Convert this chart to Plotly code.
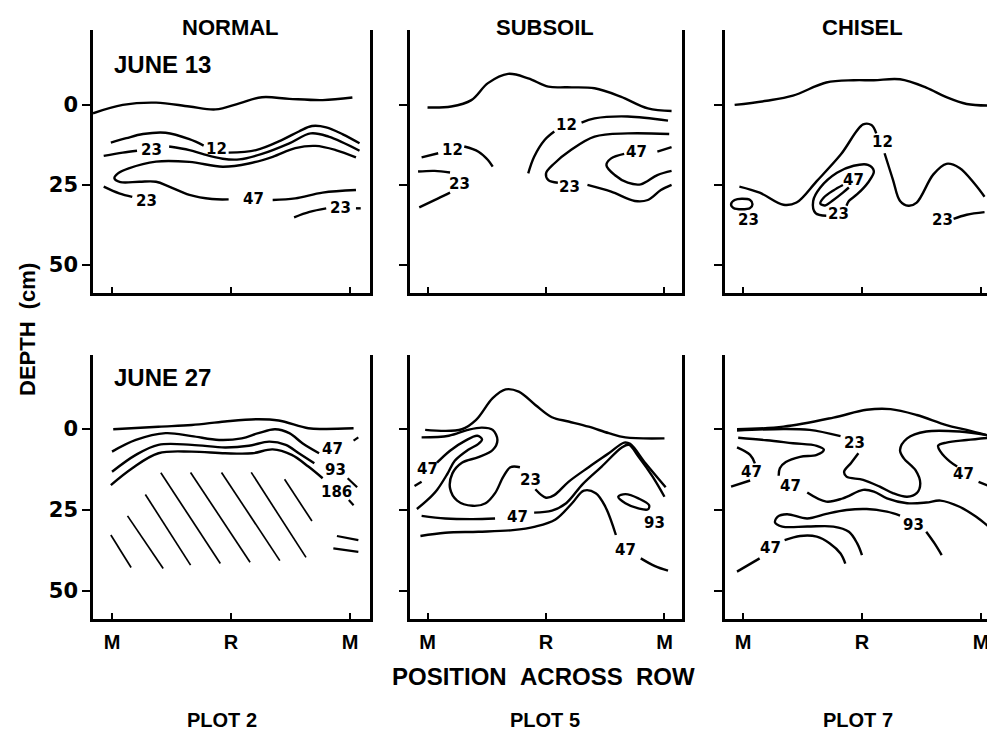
import plotly.graph_objects as go

# ---------------- data (x: position across row, M=0, R=1, M=2 ; d: depth in cm) -------------
# Panel 1: NORMAL, June 13
p1_surf_x = [-0.16, 0.09, 0.37, 0.65, 0.87, 1.07, 1.26, 1.49, 1.77, 2.02]
p1_surf_d = [2.6, 0.0, -0.7, 0.5, 1.4, -0.5, -2.4, -1.9, -1.5, -2.3]
p1_12a_x = [-0.01, 0.12, 0.26, 0.45, 0.65, 0.77]
p1_12a_d = [11.8, 10.4, 9.1, 8.7, 10.7, 12.7]
p1_12b_x = [0.98, 1.21, 1.43, 1.57, 1.68, 1.80, 1.94, 2.08]
p1_12b_d = [14.9, 14.1, 10.9, 8.3, 6.6, 7.0, 9.2, 12.0]
p1_23a_x = [-0.07, 0.09, 0.21]
p1_23a_d = [15.9, 14.9, 14.3]
p1_23b_x = [0.48, 0.65, 0.76, 0.93, 1.07, 1.26, 1.49, 1.67, 1.82, 2.08]
p1_23b_d = [13.0, 14.1, 15.3, 16.8, 17.0, 15.3, 12.0, 8.9, 9.9, 14.3]
p1_47a_x = [2.05, 1.88, 1.71, 1.54, 1.35, 1.15, 0.93, 0.65, 0.37, 0.14, 0.05, 0.02, 0.07, 0.23, 0.37, 0.48, 0.65, 0.84, 0.98]
p1_47a_d = [16.4, 14.1, 12.8, 13.5, 16.2, 18.3, 19.3, 17.8, 17.7, 19.8, 21.4, 22.9, 24.1, 24.0, 24.0, 25.5, 28.1, 29.4, 29.5]
p1_47b_x = [1.35, 1.54, 1.77, 2.05]
p1_47b_d = [29.7, 29.2, 27.4, 26.6]
p1_23c_x = [-0.07, 0.06, 0.17]
p1_23c_d = [25.5, 27.6, 28.7]
p1_23d_x = [1.53, 1.66, 1.80]
p1_23d_d = [35.1, 33.4, 32.3]
p1_dash_x = [2.05, 2.09]
p1_dash_d = [32.3, 32.3]
p1_lab_t = ["12", "23", "47", "23", "23"]
p1_lab_x = [0.88, 0.33, 1.19, 0.29, 1.92]
p1_lab_d = [13.8, 14.1, 29.4, 29.9, 32.3]

# Panel 2: SUBSOIL, June 13
p2_surf_x = [0.00, 0.20, 0.37, 0.51, 0.68, 0.85, 1.02, 1.18, 1.41, 1.63, 1.86, 2.06]
p2_surf_d = [0.8, 0.5, -1.5, -6.8, -9.7, -8.3, -5.7, -5.5, -5.2, -2.6, 1.1, 1.9]
p2_12a_x = [-0.05, 0.09]
p2_12a_d = [16.4, 15.1]
p2_12b_x = [0.31, 0.43, 0.51, 0.55]
p2_12b_d = [13.0, 14.6, 17.2, 19.3]
p2_23a_x = [-0.08, 0.06, 0.19]
p2_23a_d = [20.8, 20.6, 21.1]
p2_23b_x = [0.19, 0.09, -0.07]
p2_23b_d = [27.4, 29.2, 32.0]
p2_12c_x = [0.85, 0.90, 0.99, 1.07]
p2_12c_d = [21.4, 16.2, 10.9, 8.3]
p2_12d_x = [1.30, 1.41, 1.69, 2.03]
p2_12d_d = [5.5, 4.2, 3.6, 4.9]
p2_23c_x = [2.04, 1.69, 1.41, 1.21, 1.07, 1.00, 1.02, 1.10]
p2_23c_d = [9.1, 8.9, 9.9, 14.1, 18.3, 21.4, 23.5, 24.3]
p2_23d_x = [1.35, 1.55, 1.75, 1.86, 1.97, 2.06]
p2_23d_d = [25.0, 27.1, 30.0, 29.7, 26.6, 25.0]
p2_47a_x = [1.66, 1.55, 1.51, 1.58, 1.69, 1.80, 1.94, 2.06]
p2_47a_d = [15.3, 16.7, 18.8, 21.9, 24.3, 24.8, 21.9, 20.6]
p2_47b_x = [1.94, 2.06]
p2_47b_d = [14.6, 13.2]
p2_lab_t = ["12", "23", "12", "23", "47"]
p2_lab_x = [0.21, 0.27, 1.17, 1.20, 1.76]
p2_lab_d = [14.1, 24.7, 6.3, 25.5, 14.6]

# Panel 3: CHISEL, June 13
p3_surf_x = [-0.07, 0.20, 0.42, 0.70, 0.93, 1.10, 1.32, 1.54, 1.71, 1.88, 2.08]
p3_surf_d = [0.0, -1.3, -2.9, -7.0, -7.7, -7.7, -8.0, -5.4, -2.4, -0.3, 0.2]
p3_12a_x = [-0.03, 0.14, 0.34, 0.45, 0.62, 0.82, 1.01, 1.08, 1.12]
p3_12a_d = [25.5, 27.4, 31.2, 30.5, 23.8, 15.6, 6.1, 6.3, 8.9]
p3_12b_x = [1.19, 1.26, 1.32, 1.39, 1.46, 1.60, 1.71, 1.82, 1.95, 2.03]
p3_12b_d = [15.1, 23.3, 30.0, 31.5, 30.5, 21.7, 18.4, 19.7, 24.8, 28.7]
p3_23a_x = [-0.10, -0.07, -0.01, 0.06, 0.08, 0.06, -0.01, -0.08, -0.10]
p3_23a_d = [31.0, 29.7, 29.3, 29.7, 31.0, 32.2, 32.6, 32.2, 31.0]
p3_23b_x = [0.70, 0.61, 0.59, 0.65, 0.79, 0.93, 1.05, 1.10, 1.05, 0.96, 0.89, 0.87]
p3_23b_d = [34.6, 33.8, 30.0, 25.8, 21.2, 19.0, 18.7, 20.7, 24.3, 27.9, 30.0, 31.5]
p3_47_x = [0.84, 0.76, 0.68, 0.65, 0.69, 0.76, 0.84, 0.89]
p3_47_d = [25.0, 26.7, 28.9, 30.8, 31.4, 29.7, 27.4, 25.8]
p3_23c_x = [1.77, 1.88, 2.03]
p3_23c_d = [35.6, 34.3, 33.5]
p3_lab_t = ["12", "23", "23", "47", "23"]
p3_lab_x = [1.17, 0.05, 0.80, 0.93, 1.68]
p3_lab_d = [11.7, 35.9, 34.0, 23.3, 35.9]

# Panel 4: NORMAL, June 27
p4_surf_x = [0.01, 0.39, 0.67, 0.95, 1.23, 1.40, 1.65, 1.79, 2.03]
p4_surf_d = [0.1, -0.7, -1.2, -2.3, -3.0, -2.6, -0.2, 0.0, -0.2]
p4_47_x = [0.00, 0.20, 0.45, 0.67, 0.90, 1.09, 1.23, 1.37, 1.49, 1.60, 1.74]
p4_47_d = [7.0, 3.4, 1.3, 2.2, 3.4, 2.9, 1.3, 0.1, 1.3, 4.4, 7.5]
p4_93_x = [0.00, 0.20, 0.39, 0.67, 0.95, 1.15, 1.32, 1.46, 1.57, 1.70]
p4_93_d = [13.2, 8.0, 4.9, 4.9, 5.7, 5.2, 3.9, 4.9, 7.5, 10.6]
p4_186_x = [-0.01, 0.17, 0.39, 0.67, 0.95, 1.18, 1.35, 1.51, 1.65, 1.77]
p4_186_d = [17.3, 12.1, 7.5, 7.0, 7.5, 7.5, 6.3, 8.0, 11.6, 15.2]
p4_dash_x0 = [2.03, 1.98, 1.99, 1.89, 1.86]
p4_dash_d0 = [3.6, 15.2, 21.9, 33.0, 36.8]
p4_dash_x1 = [2.07, 2.06, 2.03, 2.07, 2.07]
p4_dash_d1 = [2.6, 18.0, 23.5, 34.3, 37.9]
p4_hatch_x0 = [-0.01, 0.13, 0.28, 0.41, 0.66, 0.92, 1.17, 1.45]
p4_hatch_d0 = [32.7, 26.8, 20.2, 13.5, 13.4, 13.4, 13.4, 15.5]
p4_hatch_x1 = [0.16, 0.43, 0.66, 0.91, 1.16, 1.41, 1.63, 1.68]
p4_hatch_d1 = [42.7, 43.0, 42.0, 41.5, 41.1, 40.6, 39.6, 28.4]
p4_lab_t = ["47", "93", "186"]
p4_lab_x = [1.85, 1.88, 1.89]
p4_lab_d = [6.3, 12.6, 19.5]

# Panel 5: SUBSOIL, June 27
p5_surf_x = [-0.02, 0.29, 0.41, 0.55, 0.66, 0.77, 0.91, 1.05, 1.19, 1.36, 1.53, 1.67, 2.00]
p5_surf_d = [0.3, 0.1, -2.8, -9.5, -12.2, -11.5, -7.4, -3.6, -2.3, -0.7, 1.3, 2.6, 2.9]
p5_23a_x = [-0.05, 0.18, 0.34, 0.46, 0.55, 0.59, 0.55, 0.43, 0.29, 0.21, 0.19, 0.25, 0.38, 0.49, 0.57, 0.64, 0.70, 0.78]
p5_23a_d = [2.6, 2.1, 0.3, -0.4, 0.3, 3.4, 6.5, 8.7, 10.4, 13.7, 18.3, 22.1, 23.7, 22.9, 19.8, 14.7, 11.8, 11.8]
p5_23b_x = [0.91, 1.00, 1.07, 1.19, 1.36, 1.53, 1.66, 1.71, 1.84, 2.01]
p5_23b_d = [18.6, 21.2, 20.4, 16.3, 11.8, 7.5, 4.2, 4.6, 10.6, 18.0]
p5_47a_x = [-0.11, -0.05]
p5_47a_d = [17.6, 16.3]
p5_47b_x = [0.08, 0.19, 0.32, 0.42, 0.46, 0.43, 0.34, 0.23, 0.17, 0.08, 0.00, -0.09]
p5_47b_d = [10.4, 6.7, 3.6, 2.1, 3.2, 4.6, 6.5, 9.8, 13.7, 18.8, 21.9, 24.7]
p5_47c_x = [-0.05, 0.15, 0.38, 0.57]
p5_47c_d = [26.8, 27.6, 27.8, 27.6]
p5_47d_x = [0.90, 1.05, 1.17, 1.31, 1.47, 1.64, 1.70, 1.78, 1.90, 2.00]
p5_47d_d = [25.8, 25.2, 22.9, 17.0, 11.6, 5.7, 4.9, 8.5, 14.7, 20.9]
p5_47e_x = [-0.06, 0.15, 0.43, 0.72, 0.91, 1.08, 1.22, 1.32, 1.42, 1.50, 1.59]
p5_47e_d = [33.0, 32.0, 31.7, 31.2, 30.1, 27.9, 22.9, 19.0, 19.8, 23.9, 32.7]
p5_47f_x = [1.80, 1.92, 2.03]
p5_47f_d = [39.9, 42.3, 43.7]
p5_93_x = [1.61, 1.67, 1.78, 1.87, 1.86, 1.78, 1.67, 1.61]
p5_93_d = [20.9, 20.1, 21.4, 23.5, 24.8, 24.5, 22.9, 20.9]
p5_lab_t = ["47", "23", "47", "47", "93"]
p5_lab_x = [0.00, 0.87, 0.76, 1.67, 1.92]
p5_lab_d = [12.4, 15.7, 27.1, 37.3, 28.9]

# Panel 6: CHISEL, June 27
p6_surf_x = [-0.05, 0.34, 0.76, 1.04, 1.24, 1.46, 1.71, 1.88, 2.10]
p6_surf_d = [0.1, -0.7, -3.5, -5.9, -6.1, -4.3, -1.2, 0.3, 2.4]
p6_23a_x = [-0.05, 0.34, 0.56, 0.82]
p6_23a_d = [0.5, 0.0, 0.3, 2.2]
p6_23b_x = [0.97, 0.91, 0.85, 0.87, 1.01, 1.15, 1.26, 1.38, 1.46, 1.49, 1.45, 1.35, 1.32, 1.38, 1.54, 1.82, 2.10]
p6_23b_d = [7.5, 10.4, 13.2, 14.7, 15.7, 17.8, 19.8, 20.9, 19.8, 16.8, 12.7, 9.0, 6.5, 2.9, 0.8, 0.8, 2.2]
p6_47a_x = [-0.04, 0.20, 0.42, 0.62, 0.68, 0.62, 0.48, 0.36, 0.31, 0.30]
p6_47a_d = [2.7, 3.5, 4.4, 5.2, 6.4, 8.0, 8.6, 10.2, 12.1, 14.4]
p6_47b_x = [0.54, 0.70, 0.84, 1.01, 1.10, 1.21, 1.38, 1.54, 1.66, 1.82, 1.96, 2.10]
p6_47b_d = [19.6, 22.4, 21.4, 18.8, 19.3, 21.4, 22.9, 22.7, 22.1, 24.0, 27.1, 31.2]
p6_47c_x = [-0.05, 0.06, 0.10]
p6_47c_d = [5.7, 8.0, 10.6]
p6_47d_x = [0.06, -0.10]
p6_47d_d = [15.9, 17.8]
p6_47e_x = [2.10, 1.88, 1.71, 1.64, 1.66, 1.74, 1.80]
p6_47e_d = [2.6, 3.4, 4.2, 5.2, 7.0, 10.1, 11.6]
p6_47f_x = [1.98, 2.08]
p6_47f_d = [16.3, 17.8]
p6_93a_x = [1.00, 0.96, 0.89, 0.76, 0.54, 0.33, 0.27, 0.29, 0.37, 0.54, 0.70, 0.87, 1.04, 1.21, 1.32]
p6_93a_d = [38.9, 35.3, 31.7, 30.1, 30.1, 30.1, 28.9, 27.1, 26.3, 27.6, 26.2, 25.0, 24.7, 25.5, 26.7]
p6_93b_x = [1.54, 1.61, 1.67]
p6_93b_d = [31.7, 35.3, 38.9]
p6_47g_x = [-0.05, 0.14]
p6_47g_d = [44.0, 39.9]
p6_47h_x = [0.35, 0.48, 0.62, 0.73, 0.82, 0.86]
p6_47h_d = [34.3, 33.0, 33.2, 35.3, 38.4, 41.5]
p6_lab_t = ["23", "47", "47", "47", "93", "47"]
p6_lab_x = [0.94, 0.40, 0.07, 1.85, 1.43, 0.23]
p6_lab_d = [4.4, 17.6, 13.2, 13.9, 29.6, 36.8]

treatments = ["NORMAL", "SUBSOIL", "CHISEL"]
dates = ["JUNE 13", "JUNE 27"]
plots = ["PLOT 2", "PLOT 5", "PLOT 7"]
x_tick_vals = [0, 1, 2]
x_tick_text = ["M", "R", "M"]
depth_ticks = [0, 25, 50]

# ---------------- figure ----------------
WORD = "Liberation Sans"
NUM = "DejaVu Sans"
W, H, OFF = 987, 723, 8   # page body margin of 8 px is compensated


def px(x):
    return (x - OFF) / W


def py(y):
    return 1 - (y - OFF) / H


fig = go.Figure()

panels = {
    1: [(p1_surf_x, p1_surf_d), (p1_12a_x, p1_12a_d), (p1_12b_x, p1_12b_d), (p1_23a_x, p1_23a_d),
        (p1_23b_x, p1_23b_d), (p1_47a_x, p1_47a_d), (p1_47b_x, p1_47b_d), (p1_23c_x, p1_23c_d),
        (p1_23d_x, p1_23d_d), (p1_dash_x, p1_dash_d)],
    2: [(p2_surf_x, p2_surf_d), (p2_12a_x, p2_12a_d), (p2_12b_x, p2_12b_d), (p2_23a_x, p2_23a_d),
        (p2_23b_x, p2_23b_d), (p2_12c_x, p2_12c_d), (p2_12d_x, p2_12d_d), (p2_23c_x, p2_23c_d),
        (p2_23d_x, p2_23d_d), (p2_47a_x, p2_47a_d), (p2_47b_x, p2_47b_d)],
    3: [(p3_surf_x, p3_surf_d), (p3_12a_x, p3_12a_d), (p3_12b_x, p3_12b_d), (p3_23a_x, p3_23a_d),
        (p3_23b_x, p3_23b_d), (p3_47_x, p3_47_d), (p3_23c_x, p3_23c_d)],
    4: [(p4_surf_x, p4_surf_d), (p4_47_x, p4_47_d), (p4_93_x, p4_93_d), (p4_186_x, p4_186_d)],
    5: [(p5_surf_x, p5_surf_d), (p5_23a_x, p5_23a_d), (p5_23b_x, p5_23b_d), (p5_47a_x, p5_47a_d),
        (p5_47b_x, p5_47b_d), (p5_47c_x, p5_47c_d), (p5_47d_x, p5_47d_d), (p5_47e_x, p5_47e_d),
        (p5_47f_x, p5_47f_d), (p5_93_x, p5_93_d)],
    6: [(p6_surf_x, p6_surf_d), (p6_23a_x, p6_23a_d), (p6_23b_x, p6_23b_d), (p6_47a_x, p6_47a_d),
        (p6_47b_x, p6_47b_d), (p6_47c_x, p6_47c_d), (p6_47d_x, p6_47d_d), (p6_47e_x, p6_47e_d),
        (p6_47f_x, p6_47f_d), (p6_93a_x, p6_93a_d), (p6_93b_x, p6_93b_d), (p6_47g_x, p6_47g_d),
        (p6_47h_x, p6_47h_d)],
}
labels = {
    1: (p1_lab_t, p1_lab_x, p1_lab_d), 2: (p2_lab_t, p2_lab_x, p2_lab_d), 3: (p3_lab_t, p3_lab_x, p3_lab_d),
    4: (p4_lab_t, p4_lab_x, p4_lab_d), 5: (p5_lab_t, p5_lab_x, p5_lab_d), 6: (p6_lab_t, p6_lab_x, p6_lab_d),
}


def ax(i):
    return ("x" if i == 1 else f"x{i}"), ("y" if i == 1 else f"y{i}")


for i, curves in panels.items():
    xa, ya = ax(i)
    for cx, cd in curves:
        fig.add_trace(go.Scatter(x=cx, y=cd, mode="lines", xaxis=xa, yaxis=ya,
                                 line=dict(color="black", width=2.4, shape="spline", smoothing=1.0),
                                 hoverinfo="skip", showlegend=False))


def segs(x0, d0, x1, d1):
    xs, ds = [], []
    for a, b, c, e in zip(x0, d0, x1, d1):
        xs += [a, c, None]
        ds += [b, e, None]
    return xs, ds


for (x0, d0, x1, d1), w in [((p4_dash_x0, p4_dash_d0, p4_dash_x1, p4_dash_d1), 2.2),
                            ((p4_hatch_x0, p4_hatch_d0, p4_hatch_x1, p4_hatch_d1), 1.7)]:
    sx, sd = segs(x0, d0, x1, d1)
    fig.add_trace(go.Scatter(x=sx, y=sd, mode="lines", xaxis="x4", yaxis="y4",
                             line=dict(color="black", width=w), hoverinfo="skip", showlegend=False))

annotations = []
for i, (ts, xs, ds) in labels.items():
    xa, ya = ax(i)
    for t, lx, ld in zip(ts, xs, ds):
        annotations.append(dict(text=t, x=lx, y=ld, xref=xa, yref=ya, showarrow=False,
                                xanchor="center", yanchor="middle",
                                font=dict(family=NUM, size=15, color="black", weight="bold")))

# layout geometry (pixel edges of each panel in the 995x731 window)
x_dom = [[px(93), px(370)], [px(410), px(682)], [px(725), px(995)]]
x_rng = [[-0.160, 2.168], [-0.148, 2.148], [-0.151, 2.118]]
y_dom = [[py(293), py(30)], [py(619), py(355)]]
y_rng = [[58.75, -23.4], [58.6, -22.8]]

layout = dict(width=W, height=H, margin=dict(l=0, r=0, t=0, b=0),
              paper_bgcolor="white", plot_bgcolor="white", showlegend=False)
for i in range(1, 7):
    col, row = (i - 1) % 3, (i - 1) // 3
    xa, ya = ax(i)
    layout["xaxis" + ("" if i == 1 else str(i))] = dict(
        domain=x_dom[col], range=x_rng[col], anchor=ya, tickvals=x_tick_vals, ticktext=x_tick_text,
        showticklabels=(row == 1), ticks="inside", ticklen=6, tickwidth=2, tickcolor="black",
        showline=True, linecolor="black", linewidth=2.5, showgrid=False, zeroline=False,
        tickfont=dict(family=WORD, size=20, color="black", weight="bold"), ticklabelstandoff=3)
    layout["yaxis" + ("" if i == 1 else str(i))] = dict(
        domain=y_dom[row], range=y_rng[row], anchor=xa, tickvals=depth_ticks,
        showticklabels=(col == 0), ticks="outside", ticklen=8, tickwidth=2, tickcolor="black",
        showline=True, mirror=(col < 2), linecolor="black", linewidth=2.5, showgrid=False, zeroline=False,
        tickfont=dict(family=NUM, size=21, color="black", weight="bold"))


def note(text, x, y, size, xanchor="center", angle=0, family=WORD):
    annotations.append(dict(text=text, x=px(x), y=py(y), xref="paper", yref="paper", showarrow=False,
                            xanchor=xanchor, yanchor="middle", textangle=angle,
                            font=dict(family=family, size=size, color="black", weight="bold")))


title_x = [230, 545, 862]
for k, t in enumerate(treatments):
    note(t, title_x[k], 27, 22)
date_y = [65, 378]
for k, t in enumerate(dates):
    note(t, 112, date_y[k], 24, xanchor="left")
plot_x = [222, 545, 858]
for k, t in enumerate(plots):
    note(t, plot_x[k], 720, 20)
note("POSITION&nbsp;&nbsp;ACROSS&nbsp;&nbsp;ROW", 543, 676, 24)
note("DEPTH&nbsp;&nbsp;(cm)", 27, 330, 22, angle=-90)

layout["annotations"] = annotations
fig.update_layout(**layout)
fig.write_html("out.html")
